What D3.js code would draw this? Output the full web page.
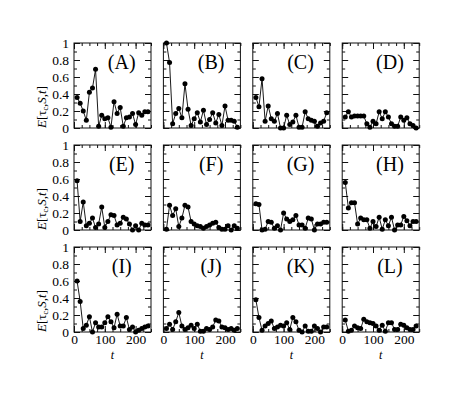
<!DOCTYPE html>
<html lang="en">
<head>
<meta charset="UTF-8">
<title>E[tau,S,t] panels</title>
<script src="https://d3js.org/d3.v7.min.js"></script>
<style>
  body { margin: 0; background: #fff; }
  svg text { font-family: "Liberation Serif", "Times New Roman", "DejaVu Serif", serif; fill: #000; }
  .frame { fill: none; stroke: #111; stroke-width: 1; }
  .tick line { stroke: #111; }
</style>
</head>
<body>
<div id="chart"></div>
<script>
// time steps shared by all panels
const times = [10, 20, 30, 40, 50, 60, 70, 80, 90, 100, 110, 120,
               130, 140, 150, 160, 170, 180, 190, 200, 210, 220, 230, 240];

const panelNames = ["A", "B", "C", "D", "E", "F", "G", "H", "I", "J", "K", "L"];

const seriesA = [0.36, 0.29, 0.2, 0.09, 0.42, 0.47, 0.69, 0.02, 0.15, 0.11, 0.12, 0.01,
                 0.31, 0.17, 0.24, 0.02, 0.12, 0.13, 0.17, 0.04, 0.18, 0.15, 0.19, 0.19];
const seriesB = [1.0, 0.77, 0.05, 0.17, 0.23, 0.12, 0.52, 0.22, 0.03, 0.11, 0.18, 0.07,
                 0.21, 0.04, 0.1, 0.18, 0.06, 0.16, 0.03, 0.26, 0.09, 0.09, 0.08, 0.01];
const seriesC = [0.36, 0.25, 0.58, 0.08, 0.26, 0.11, 0.08, 0.17, 0.0, 0.0, 0.15, 0.04,
                 0.07, 0.15, 0.01, 0.01, 0.19, 0.11, 0.09, 0.08, 0.02, 0.06, 0.08, 0.18];
const seriesD = [0.13, 0.19, 0.13, 0.14, 0.14, 0.14, 0.14, 0.05, 0.01, 0.08, 0.05, 0.19,
                 0.11, 0.19, 0.13, 0.05, 0.02, 0.02, 0.13, 0.09, 0.12, 0.05, 0.03, 0.0];
const seriesE = [0.58, 0.1, 0.33, 0.05, 0.08, 0.14, 0.03, 0.07, 0.27, 0.03, 0.1, 0.18,
                 0.17, 0.06, 0.08, 0.15, 0.13, 0.07, 0.0, 0.05, 0.0, 0.08, 0.06, 0.06];
const seriesF = [0.01, 0.29, 0.17, 0.25, 0.04, 0.14, 0.29, 0.27, 0.1, 0.07, 0.05, 0.04,
                 0.02, 0.04, 0.06, 0.08, 0.09, 0.03, 0.01, 0.01, 0.05, 0.0, 0.05, 0.02];
const seriesG = [0.31, 0.3, 0.0, 0.01, 0.1, 0.09, 0.02, 0.05, 0.0, 0.2, 0.13, 0.1,
                 0.12, 0.17, 0.06, 0.06, 0.02, 0.14, 0.13, 0.0, 0.07, 0.07, 0.09, 0.09];
const seriesH = [0.56, 0.26, 0.32, 0.32, 0.07, 0.14, 0.12, 0.12, 0.02, 0.1, 0.04, 0.15,
                 0.01, 0.12, 0.05, 0.15, 0.0, 0.06, 0.06, 0.16, 0.11, 0.05, 0.1, 0.1];
const seriesI = [0.6, 0.36, 0.04, 0.08, 0.18, 0.0, 0.11, 0.06, 0.06, 0.11, 0.18, 0.12,
                 0.05, 0.21, 0.07, 0.07, 0.17, 0.03, 0.06, 0.0, 0.02, 0.04, 0.06, 0.07];
const seriesJ = [0.04, 0.09, 0.03, 0.12, 0.23, 0.07, 0.03, 0.05, 0.08, 0.04, 0.09, 0.01,
                 0.01, 0.04, 0.03, 0.06, 0.14, 0.13, 0.06, 0.05, 0.03, 0.04, 0.02, 0.04];
const seriesK = [0.38, 0.17, 0.02, 0.07, 0.1, 0.13, 0.04, 0.06, 0.08, 0.07, 0.11, 0.03,
                 0.17, 0.12, 0.02, 0.0, 0.07, 0.01, 0.01, 0.07, 0.04, 0.0, 0.06, 0.06];
const seriesL = [0.14, 0.01, 0.02, 0.07, 0.05, 0.04, 0.15, 0.12, 0.11, 0.1, 0.07, 0.02,
                 0.08, 0.01, 0.11, 0.11, 0.03, 0.03, 0.09, 0.08, 0.05, 0.03, 0.03, 0.07];

const allSeries = [seriesA, seriesB, seriesC, seriesD, seriesE, seriesF,
                   seriesG, seriesH, seriesI, seriesJ, seriesK, seriesL];

const xTickLabels = [0, 100, 200];
const yTickLabels = [0, 0.2, 0.4, 0.6, 0.8, 1];

const W = 471, H = 393;
const pw = 77, ph = 85;      // panel size
const left0 = 74, top0 = 43; // first panel corner
const dx = 89.4, dy = 102;   // panel spacing
const serif = "'Liberation Serif', 'Times New Roman', 'DejaVu Serif', serif";

const svg = d3.select("#chart")
    .append("svg")
    .attr("width", W)
    .attr("height", H);

const x = d3.scaleLinear().domain([0, 250]).range([0, pw]);
const y = d3.scaleLinear().domain([0, 1]).range([ph, 0]);

const line = d3.line()
    .x((d) => x(d[0]))
    .y((d) => y(d[1]));

allSeries.forEach(function (vals, i) {
    const col = i % 4, row = Math.floor(i / 4);
    const g = svg.append("g")
        .attr("transform", "translate(" + (left0 + col * dx) + "," + (top0 + row * dy) + ")");

    // inward ticks on all four sides, minor then major
    const yMinor = d3.range(0, 1.01, 0.1);
    const xMinor = d3.range(0, 251, 25);

    g.append("g").call(d3.axisLeft(y).tickValues(yMinor).tickSize(-3).tickFormat(""));
    g.append("g").attr("transform", "translate(" + pw + ",0)")
        .call(d3.axisRight(y).tickValues(yMinor).tickSize(-3).tickFormat(""));
    g.append("g").attr("transform", "translate(0," + ph + ")")
        .call(d3.axisBottom(x).tickValues(xMinor).tickSize(-3).tickFormat(""));
    g.append("g")
        .call(d3.axisTop(x).tickValues(xMinor).tickSize(-3).tickFormat(""));

    g.append("g")
        .call(d3.axisLeft(y).tickValues(yTickLabels).tickSize(-6).tickPadding(5)
            .tickFormat(col === 0 ? d3.format("") : ""));
    g.append("g").attr("transform", "translate(" + pw + ",0)")
        .call(d3.axisRight(y).tickValues(yTickLabels).tickSize(-6).tickFormat(""));
    g.append("g").attr("transform", "translate(0," + ph + ")")
        .call(d3.axisBottom(x).tickValues(xTickLabels).tickSize(-6).tickPadding(2)
            .tickFormat(row === 2 ? d3.format("") : ""));
    g.append("g")
        .call(d3.axisTop(x).tickValues(xTickLabels).tickSize(-6).tickFormat(""));

    g.selectAll(".tick text")
        .attr("font-size", 13.5)
        .style("font-family", serif);

    g.selectAll(".domain").remove();

    g.append("rect")
        .attr("class", "frame")
        .attr("width", pw)
        .attr("height", ph);

    const pts = times.map((t, k) => [t, vals[k]]);

    g.append("path")
        .datum(pts)
        .attr("fill", "none")
        .attr("stroke", "#000")
        .attr("stroke-width", 0.9)
        .attr("d", line);

    g.selectAll("circle")
        .data(pts)
        .enter()
        .append("circle")
        .attr("cx", (d) => x(d[0]))
        .attr("cy", (d) => y(d[1]))
        .attr("r", 2.5)
        .attr("fill", "#000");

    g.append("text")
        .attr("x", pw * 0.62)
        .attr("y", 26)
        .attr("text-anchor", "middle")
        .attr("font-size", 20)
        .style("font-family", serif)
        .text("(" + panelNames[i] + ")");

    if (col === 0) {
        const lab = g.append("text")
            .attr("transform", "translate(-28," + ph + ") rotate(-90)")
            .attr("text-anchor", "start")
            .attr("font-size", 13)
            .style("font-family", serif);
        lab.append("tspan").attr("font-style", "italic").text("E");
        lab.append("tspan").text("[τ");
        lab.append("tspan").attr("font-size", 8).attr("dy", 2).text("c");
        lab.append("tspan").attr("dy", -2).text(",");
        lab.append("tspan").attr("font-style", "italic").text("S");
        lab.append("tspan").text(",");
        lab.append("tspan").attr("font-style", "italic").text("t");
        lab.append("tspan").text("]");
    }

    if (row === 2) {
        g.append("text")
            .attr("x", pw / 2)
            .attr("y", ph + 27)
            .attr("text-anchor", "middle")
            .attr("font-size", 12)
            .attr("font-style", "italic")
            .style("font-family", serif)
            .text("t");
    }
});
</script>
</body>
</html>
